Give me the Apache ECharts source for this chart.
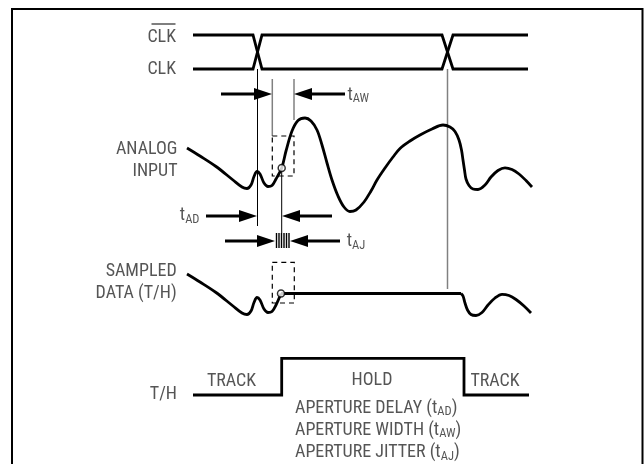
<!DOCTYPE html>
<html><head><meta charset="utf-8">
<script src="https://cdn.jsdelivr.net/npm/echarts/dist/echarts.min.js"></script>
<style>html,body{margin:0;padding:0;background:#fff}#c{width:644px;height:464px}</style>
</head><body><div id="c"></div>
<script>
const FONT = '"Roboto Condensed","Liberation Sans Narrow","DejaVu Sans Condensed",sans-serif';
const TEXT = '#2a2a2a';

// ---- waveform data (x = time, y = level; y axis inverted) ----
const clkBar = [[193,35],[253,35],[262,69],[442,69],[453,35],[528,35]];
const clk    = [[193,69],[253,69],[262,35],[442,35],[453,69],[528,69]];
const analogInput = [[187,148],[200,156],[216,166.5],[233,180],[242,187],[247,188.5],[251,185],[254,176.5],[257,171.5],[260,174],[264,183],[268,186.5],[272,185.5],[276,179],[281.7,168],[286,151],[292,131],[298,120.5],[305,118],[311,121],[317,130],[322,145],[327,163],[332,180],[338,196],[344,207],[350,211.5],[356,210],[364,202],[371,191],[377,180],[385,168],[393,157],[400,148.5],[410,141],[420,135],[432,129],[443,125],[450,127],[455,131.5],[459,140],[461.5,150],[463,160],[464.5,170],[466,179],[469,185.5],[473,189],[478,189.5],[485,185],[491,177],[498,170.5],[505,167.8],[512,169.5],[519,174],[526,180.5],[532,187]];
const sampledTrack1 = [[187,274],[200,282],[216,292.5],[233,306],[242,313],[247,314.5],[251,311],[254,302.5],[257,297.5],[260,300],[264,309],[268,312.5],[272,311.5],[276,305],[281,293.5]];
const sampledHold = [[281,293.5],[461,293.5]];
const sampledTrack2 = [[461,293.5],[463,296],[465,303],[467.5,310],[471,314.5],[476,315.5],[482,312.5],[488,305],[495,298],[502,294.3],[509,295.5],[516,299.5],[524,306],[531,313]];
const trackHold = [[193,395],[281.7,395],[281.7,358.3],[464,358.3],[464,395],[529,395]];
const samplePoints = [[281.7,168],[281,293.5]];
const apertureBoxes = [[272.3,136,294,176],[272.3,262.3,294.3,303]];
const refBlack = [[257.5,69,226],[281.7,170,233]];
const refGray = [[272.3,79,136],[294,79,120],[447.5,69,289]];
const arrows = [[221,94,272],[345,94,294],[206,216,257],[332,216,282],[225,241,275],[340,241,290]];
const jitterX = [276.5,279,281.5,284,286.5,289];
const jitterSpan = [233,248];
const frame = [[12,470],[12,9],[642.5,9],[642.5,470]];
const clkOverline = [[151.5,24],[175.5,24]];

// ---- text ----
const texts = [
  ['CLK',176,37.5,'right'],['CLK',176,69.5,'right'],
  ['ANALOG',177.5,149,'right'],['INPUT',177.5,171,'right'],
  ['SAMPLED',176.7,271.7,'right'],['DATA (T/H)',176.7,293.5,'right'],
  ['T/H',177,394,'right'],['TRACK',231.5,381,'center'],['HOLD',372,380,'center'],['TRACK',495,381,'center'],
  ['APERTURE DELAY (t_AD)',295,408,'left'],['APERTURE WIDTH (t_AW)',295,430,'left'],['APERTURE JITTER (t_AJ)',295,452.5,'left'],
  ['t_AW',347.5,95,'left'],['t_AD',199.5,215.5,'right'],['t_AJ',346.7,241.5,'left']
];

function fmt(str){
  return str.split(/(_[A-Z]+)/).filter(Boolean).map(p => p[0]==='_' ? '{s|'+p.slice(1)+'}' : '{a|'+p+'}').join('');
}
const rich = {
  a:{fontFamily:FONT,fontSize:18,color:TEXT,lineHeight:20},
  s:{fontFamily:FONT,fontSize:12.5,color:TEXT,padding:[8,0,0,0]}
};

function line(data, style, extra){
  return Object.assign({type:'line',data,showSymbol:false,symbol:'none',silent:true,clip:false,animation:false,
    lineStyle:Object.assign({color:'#000',width:2.8,join:'miter',cap:'butt'},style||{})},extra||{});
}
function vseg(data, color, width){
  return {type:'custom',silent:true,animation:false,clip:false,data,
    renderItem(params, api){
      const a = api.coord([api.value(0), api.value(1)]);
      const b = api.coord([api.value(0), api.value(2)]);
      return {type:'line',shape:{x1:a[0],y1:a[1],x2:b[0],y2:b[1]},style:{stroke:color,lineWidth:width}};
    }};
}

const option = {
  backgroundColor:'#fff',
  animation:false,
  grid:{left:0,right:0,top:0,bottom:0},
  xAxis:{type:'value',min:0,max:644,show:false},
  yAxis:{type:'value',min:0,max:464,inverse:true,show:false},
  series:[
    line(frame,{width:2}),
    line(clkBar),
    line(clk),
    vseg(refBlack,'#000',1),
    vseg(refGray,'#808080',1.5),
    ...apertureBoxes.map(b => line([[b[0],b[1]],[b[2],b[1]],[b[2],b[3]],[b[0],b[3]],[b[0],b[1]]],{width:1.2,type:[5,4],join:'miter'})),
    line(analogInput,{},{smooth:0.35}),
    line(sampledTrack1,{},{smooth:0.35}),
    line(sampledHold),
    line(sampledTrack2,{},{smooth:0.35}),
    line(trackHold),
    line(clkOverline,{width:1.2,color:TEXT}),
    vseg(jitterX.map(x => [x, jitterSpan[0], jitterSpan[1]]),'#000',1.4),
    {type:'custom',silent:true,animation:false,clip:false,data:arrows,
      renderItem(params, api){
        const s = api.coord([api.value(0), api.value(1)]);
        const t = api.coord([api.value(2), api.value(1)]);
        const dx=t[0]-s[0], dy=t[1]-s[1], L=Math.hypot(dx,dy), ux=dx/L, uy=dy/L;
        const HL=18, HW=6;
        const b=[t[0]-ux*HL, t[1]-uy*HL];
        return {type:'group',children:[
          {type:'line',shape:{x1:s[0],y1:s[1],x2:b[0]+ux,y2:b[1]+uy},style:{stroke:'#000',lineWidth:3}},
          {type:'polygon',shape:{points:[t,[b[0]-uy*HW,b[1]+ux*HW],[b[0]+uy*HW,b[1]-ux*HW]]},style:{fill:'#000'}}
        ]};
      }},
    {type:'scatter',silent:true,animation:false,data:samplePoints,symbol:'circle',symbolSize:7,z:5,
      itemStyle:{color:'#fff',borderColor:'#000',borderWidth:1.5}},
    {type:'scatter',silent:true,animation:false,symbolSize:0,z:6,
      data:texts.map(t => ({value:[t[1],t[2]],label:{show:true,position:'inside',align:t[3],verticalAlign:'middle',formatter:fmt(t[0]),rich}}))}
  ]
};
const chart = echarts.init(document.getElementById('c'));
chart.setOption(option);
</script></body></html>
